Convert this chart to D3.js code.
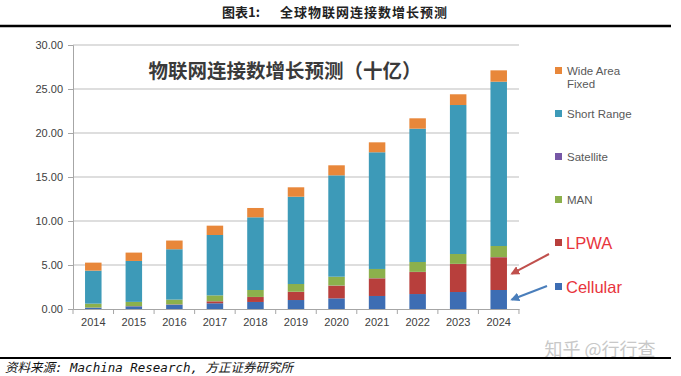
<!DOCTYPE html>
<html><head><meta charset="utf-8">
<script src="https://cdn.jsdelivr.net/npm/d3@7/dist/d3.min.js"></script>
<style>body{margin:0;background:#fff;}svg{display:block;}</style>
</head><body>
<script>
const years = ["2014","2015","2016","2017","2018","2019","2020","2021","2022","2023","2024"];
const cellular      = [0.15,0.30,0.49,0.65,0.80,1.02,1.21,1.48,1.70,1.93,2.16];
const lpwa          = [0.01,0.02,0.03,0.22,0.56,0.93,1.44,2.00,2.50,3.18,3.72];
const satellite     = [0.01,0.01,0.01,0.01,0.01,0.01,0.02,0.02,0.02,0.02,0.02];
const man           = [0.44,0.48,0.54,0.67,0.79,0.88,1.00,1.05,1.12,1.12,1.26];
const shortRange    = [3.75,4.65,5.72,6.86,8.26,9.92,11.52,13.26,15.15,16.93,18.67];
const wideAreaFixed = [0.91,0.95,0.99,1.06,1.06,1.07,1.14,1.13,1.18,1.22,1.29];
const yTicks = [0,5,10,15,20,25,30];
const seriesNames = ["Cellular","LPWA","Satellite","MAN","Short Range","Wide Area Fixed"];
const seriesColors = ["#3d6db3","#b83f3c","#7657a6","#8cb04c","#3d9ab8","#e8873a"];
const titleLabel = "图表1:";
const title = "全球物联网连接数增长预测";
const chartTitle = "物联网连接数增长预测（十亿）";
const source = "资料来源: Machina Research, 方正证券研究所";
const watermark = "知乎 @行行查";

const W = 681, H = 376;
const svg = d3.select("body").append("svg").attr("width", W).attr("height", H);
const font = "'Liberation Sans', Arial, sans-serif";

// header
svg.append("text").attr("x", 222).attr("y", 17)
  .attr("font-family","'Noto Sans CJK SC'").attr("font-size",13).attr("font-weight","bold")
  .attr("fill","#222").text(titleLabel);
svg.append("text").attr("x", 280).attr("y", 17).attr("letter-spacing", 1)
  .attr("font-family","'Noto Sans CJK SC'").attr("font-size",13).attr("font-weight","bold")
  .attr("fill","#222").text(title);
svg.append("line").attr("x1",0).attr("x2",671).attr("y1",26).attr("y2",26)
  .attr("stroke","#000").attr("stroke-width",2.5);

const x = d3.scaleBand().domain(years).range([73, 519]).paddingInner(0.593).paddingOuter(0.297);
const y = d3.scaleLinear().domain([0, 30]).range([309, 45]);

// gridlines
svg.append("g").selectAll("line").data(yTicks.filter(d => d > 0)).join("line")
  .attr("x1", 73).attr("x2", 519).attr("y1", d => y(d)).attr("y2", d => y(d))
  .attr("stroke", "#bdbdbd").attr("stroke-width", 1);

// y axis
const yAxis = svg.append("g").attr("transform","translate(73,0)")
  .call(d3.axisLeft(y).tickValues(yTicks).tickFormat(d3.format(".2f")).tickSize(5).tickPadding(5));
yAxis.select(".domain").attr("stroke","#a6a6a6");
yAxis.selectAll(".tick line").attr("stroke","#a6a6a6");
yAxis.selectAll("text").attr("font-family",font).attr("font-size",11).attr("fill","#404040");

// stacked bars
const rows = years.map((yr, i) => ({year: yr, "Cellular": cellular[i], "LPWA": lpwa[i], "Satellite": satellite[i],
  "MAN": man[i], "Short Range": shortRange[i], "Wide Area Fixed": wideAreaFixed[i]}));
const stack = d3.stack().keys(seriesNames)(rows);
svg.append("g").selectAll("g").data(stack).join("g").attr("fill", (d, i) => seriesColors[i])
  .selectAll("rect").data(d => d).join("rect")
  .attr("x", d => x(d.data.year)).attr("width", x.bandwidth())
  .attr("y", d => y(d[1])).attr("height", d => y(d[0]) - y(d[1]));

// x axis
const step = x.step();
const xAxis = svg.append("g").attr("transform","translate(0,309)")
  .call(d3.axisBottom(x).tickSize(0).tickPadding(9));
xAxis.select(".domain").attr("stroke","#a6a6a6");
xAxis.selectAll("text").attr("font-family",font).attr("font-size",11).attr("fill","#404040");
const bounds = d3.range(years.length + 1).map(i => 73 + i * step);
svg.append("g").selectAll("line").data(bounds).join("line")
  .attr("x1", d => d).attr("x2", d => d).attr("y1", 309).attr("y2", 314)
  .attr("stroke","#a6a6a6");

// chart title
svg.append("text").attr("x", 285).attr("y", 78).attr("text-anchor","middle")
  .attr("font-family","'Noto Sans CJK SC'").attr("font-size",19.5).attr("font-weight","bold")
  .attr("fill","#3a3a3a").text(chartTitle);

// legend
const legendItems = [
  {name: "Wide Area Fixed", lines: ["Wide Area","Fixed"], y: 71, big: false},
  {name: "Short Range", lines: ["Short Range"], y: 114, big: false},
  {name: "Satellite", lines: ["Satellite"], y: 157, big: false},
  {name: "MAN", lines: ["MAN"], y: 200, big: false},
  {name: "LPWA", lines: ["LPWA"], y: 243, big: true},
  {name: "Cellular", lines: ["Cellular"], y: 287, big: true}
];
const lg = svg.append("g");
legendItems.forEach(it => {
  const c = seriesColors[seriesNames.indexOf(it.name)];
  lg.append("rect").attr("x", 555).attr("y", it.y - 4).attr("width", 7).attr("height", 7).attr("fill", c);
  const t = lg.append("text").attr("x", it.big ? 566 : 567).attr("y", it.y + (it.big ? 6 : 4))
    .attr("font-family", font).attr("font-size", it.big ? 16.5 : 11.5)
    .attr("fill", it.big ? "#e8343c" : "#595959");
  it.lines.forEach((l, k) => t.append("tspan").attr("x", it.big ? 566 : 567).attr("dy", k ? 13 : 0).text(l));
});

// arrows
const defs = svg.append("defs");
[["arrRed","#c0504d"],["arrBlue","#4a7ebb"]].forEach(([id, col]) => {
  defs.append("marker").attr("id", id).attr("viewBox","0 0 10 10").attr("refX", 8).attr("refY", 5)
    .attr("markerWidth", 4.5).attr("markerHeight", 4.5).attr("orient","auto")
    .append("path").attr("d","M0,0 L10,5 L0,10 z").attr("fill", col);
});
const xEnd = x("2024") + x.bandwidth() + 5;
const lastI = years.length - 1;
svg.append("line").attr("x1", 549).attr("y1", 254).attr("x2", xEnd)
  .attr("y2", y(cellular[lastI] + lpwa[lastI] / 2))
  .attr("stroke","#c0504d").attr("stroke-width",2).attr("marker-end","url(#arrRed)");
svg.append("line").attr("x1", 547).attr("y1", 286).attr("x2", xEnd)
  .attr("y2", y(cellular[lastI] / 2))
  .attr("stroke","#4a7ebb").attr("stroke-width",2).attr("marker-end","url(#arrBlue)");

// footer
svg.append("text").attr("x", 600).attr("y", 356).attr("text-anchor","middle")
  .attr("font-family","'Noto Sans CJK SC'").attr("font-size",18).attr("fill","#c8c8c8").text(watermark);
svg.append("line").attr("x1",0).attr("x2",671).attr("y1",358).attr("y2",358)
  .attr("stroke","#000").attr("stroke-width",2);
svg.append("text").attr("x", 5).attr("y", 372)
  .attr("font-family","'DejaVu Sans Mono', 'Noto Sans CJK SC'").attr("font-size",12.5).attr("font-style","italic")
  .attr("fill","#111").text(source);
</script>
</body></html>
